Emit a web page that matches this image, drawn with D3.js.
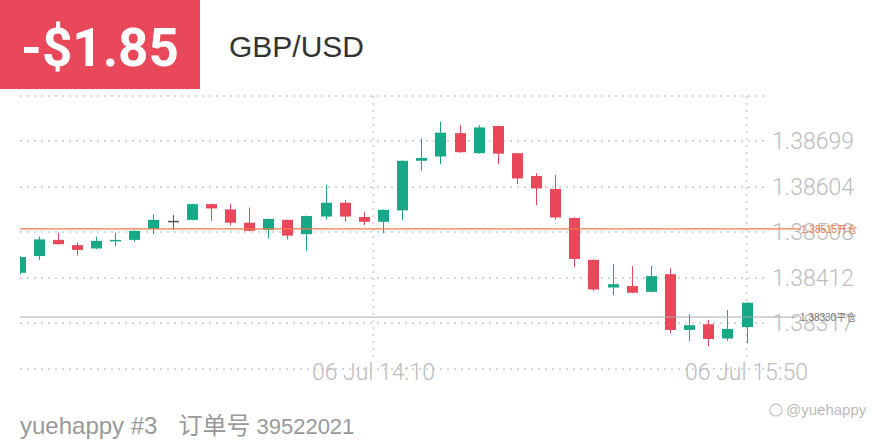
<!DOCTYPE html>
<html><head><meta charset="utf-8">
<script src="https://cdn.jsdelivr.net/npm/d3@7"></script>
<style>
html,body{margin:0;padding:0;background:#fff;}
svg{display:block;}
</style></head>
<body><svg id="c" width="880" height="440"></svg>
<script>
// ---- data ----
const opens  = [1.38423,1.38458,1.38492,1.38481,1.38474,1.38491,1.38492,1.38515,1.38532,1.38534,
                1.38567,1.38556,1.38528,1.38513,1.38534,1.38504,1.38541,1.38570,1.38540,1.38530,
                1.38554,1.38658,1.38667,1.38716,1.38674,1.38731,1.38674,1.38626,1.38599,1.38538,
                1.38450,1.38392,1.38395,1.38383,1.38420,1.38303,1.38315,1.38285,1.38309];
const closes = [1.38456,1.38493,1.38483,1.38471,1.38490,1.38492,1.38511,1.38534,1.38532,1.38567,
                1.38558,1.38528,1.38511,1.38536,1.38501,1.38542,1.38570,1.38541,1.38530,1.38555,
                1.38658,1.38664,1.38717,1.38676,1.38728,1.38673,1.38621,1.38600,1.38539,1.38452,
                1.38388,1.38399,1.38381,1.38416,1.38303,1.38313,1.38284,1.38305,1.38360];
const highs  = [1.38458,1.38499,1.38507,1.38487,1.38499,1.38507,1.38512,1.38546,1.38544,1.38568,
                1.38568,1.38567,1.38560,1.38537,1.38535,1.38543,1.38607,1.38576,1.38551,1.38556,
                1.38659,1.38705,1.38740,1.38733,1.38733,1.38732,1.38674,1.38632,1.38628,1.38539,
                1.38451,1.38441,1.38437,1.38437,1.38432,1.38336,1.38324,1.38345,1.38361];
const lows   = [1.38420,1.38450,1.38482,1.38459,1.38472,1.38479,1.38488,1.38504,1.38513,1.38533,
                1.38532,1.38522,1.38510,1.38495,1.38493,1.38469,1.38535,1.38530,1.38523,1.38506,
                1.38534,1.38637,1.38651,1.38675,1.38673,1.38651,1.38609,1.38565,1.38534,1.38435,
                1.38385,1.38376,1.38380,1.38382,1.38296,1.38280,1.38269,1.38280,1.38275];
const yTickValues = [1.38317, 1.38412, 1.38508, 1.38604, 1.38699];
const yTickLabels = ["1.38317", "1.38412", "1.38508", "1.38604", "1.38699"];
const yGridExtra  = [1.38221, 1.38794];
const xTickPos    = [18.5, 38];
const xTickLabels = ["06 Jul 14:10", "06 Jul 15:50"];
const openPrice = 1.38515, openLabel = "1.38515开仓";
const closePrice = 1.38330, closeLabel = "1.38330平仓";
const pnlText = "-$1.85";
const symbol = "GBP/USD";
const footer = ["yuehappy #3", "订单号", "39522021"];
const watermark = "@yuehappy";

const candles = opens.map((o,i)=>({i, o, c:closes[i], h:highs[i], l:lows[i]}));

// ---- drawing ----
const svg = d3.select("#c");
const UP = "#17a987", DOWN = "#e9485a", FLAT = "#555";
const fontFam = "'Helvetica Neue', Roboto, 'Liberation Sans', Arial, sans-serif";

const x = d3.scaleLinear().domain([0, 38]).range([19.5, 746.5]);
const y = d3.scaleLinear().domain([1.38221, 1.38794]).range([369, 96]);

// header
svg.append("rect").attr("x",0).attr("y",0).attr("width",200).attr("height",89).attr("fill","#e9485a");
svg.append("text").attr("x",100).attr("y",66).attr("text-anchor","middle")
  .attr("fill","#fff").attr("font-family","Roboto, 'Liberation Sans', Arial, sans-serif")
  .attr("font-weight","bold").attr("font-size",53).text(pnlText);
svg.append("text").attr("x",229).attr("y",57).attr("fill","#333")
  .attr("font-family","'Liberation Sans', Arial, sans-serif").attr("font-size",30).text(symbol);

// grid
const grid = svg.append("g").attr("stroke","#d6d6d6").attr("stroke-width",2).attr("stroke-dasharray","2,5");
grid.selectAll("line.h").data(yGridExtra.concat(yTickValues)).join("line")
  .attr("x1",20).attr("x2",766).attr("y1",d=>Math.round(y(d))).attr("y2",d=>Math.round(y(d)));
grid.selectAll("line.v").data(xTickPos).join("line")
  .attr("x1",d=>x(d)).attr("x2",d=>x(d)).attr("y1",y(1.38794)).attr("y2",362);

// y tick labels
svg.append("g").selectAll("text").data(yTickValues).join("text")
  .attr("x",772).attr("y",d=>y(d)+8).attr("fill","#bcbcbc")
  .attr("font-family",fontFam).attr("font-weight",300).attr("font-size",23)
  .text((d,i)=>yTickLabels[i]);

// x tick labels
svg.append("g").selectAll("text").data(xTickPos).join("text")
  .attr("x",d=>x(d)).attr("y",380).attr("text-anchor","middle").attr("fill","#bcbcbc")
  .attr("font-family",fontFam).attr("font-weight",300).attr("font-size",23)
  .text((d,i)=>xTickLabels[i]);

// candles
svg.append("clipPath").attr("id","clip").append("rect").attr("x",20).attr("y",80).attr("width",750).attr("height",300);
const cg = svg.append("g").attr("clip-path","url(#clip)");
const col = d => d.c > d.o ? UP : (d.c < d.o ? DOWN : FLAT);
cg.selectAll("line.w").data(candles).join("line")
  .attr("x1",d=>Math.round(x(d.i))+0.5).attr("x2",d=>Math.round(x(d.i))+0.5)
  .attr("y1",d=>y(d.h)).attr("y2",d=>y(d.l)).attr("stroke",col).attr("stroke-width",1);
const bw = 11;
cg.selectAll("rect.b").data(candles).join("rect")
  .attr("x",d=>Math.round(x(d.i))-5)
  .attr("width",bw)
  .attr("y",d=>Math.min(y(d.o),y(d.c)))
  .attr("height",d=>Math.max(1.5, Math.abs(y(d.o)-y(d.c))))
  .attr("fill",col);

// open / close lines
svg.append("line").attr("x1",20).attr("x2",800).attr("y1",y(openPrice)).attr("y2",y(openPrice))
  .attr("stroke","#f07848").attr("stroke-width",1.2);
svg.append("text").attr("x",801).attr("y",y(openPrice)+4).attr("fill","#f07848")
  .attr("font-family","'Liberation Sans', 'Noto Sans CJK SC', sans-serif").attr("font-size",10).text(openLabel);
svg.append("line").attr("x1",20).attr("x2",798).attr("y1",y(closePrice)).attr("y2",y(closePrice))
  .attr("stroke","#aaa").attr("stroke-width",1);
svg.append("text").attr("x",800).attr("y",y(closePrice)+4).attr("fill","#777")
  .attr("font-family","'Liberation Sans', 'Noto Sans CJK SC', sans-serif").attr("font-size",10).text(closeLabel);

// footer
const ft = svg.append("text").attr("x",20).attr("y",434).attr("fill","#999")
  .attr("font-family","'Liberation Sans', 'Noto Sans CJK SC', sans-serif").attr("font-size",24);
ft.append("tspan").text(footer[0]);
ft.append("tspan").attr("dx",21).attr("font-family","'Noto Sans CJK SC', sans-serif").text(footer[1]);
ft.append("tspan").attr("dx",6).attr("font-size",22).text(footer[2]);

// watermark
svg.append("circle").attr("cx",776).attr("cy",410).attr("r",6).attr("fill","none").attr("stroke","#ccc").attr("stroke-width",1.5);
svg.append("text").attr("x",786).attr("y",415).attr("fill","#bbb")
  .attr("font-family","'Liberation Sans', Arial, sans-serif").attr("font-size",15).text(watermark);
</script></body></html>
